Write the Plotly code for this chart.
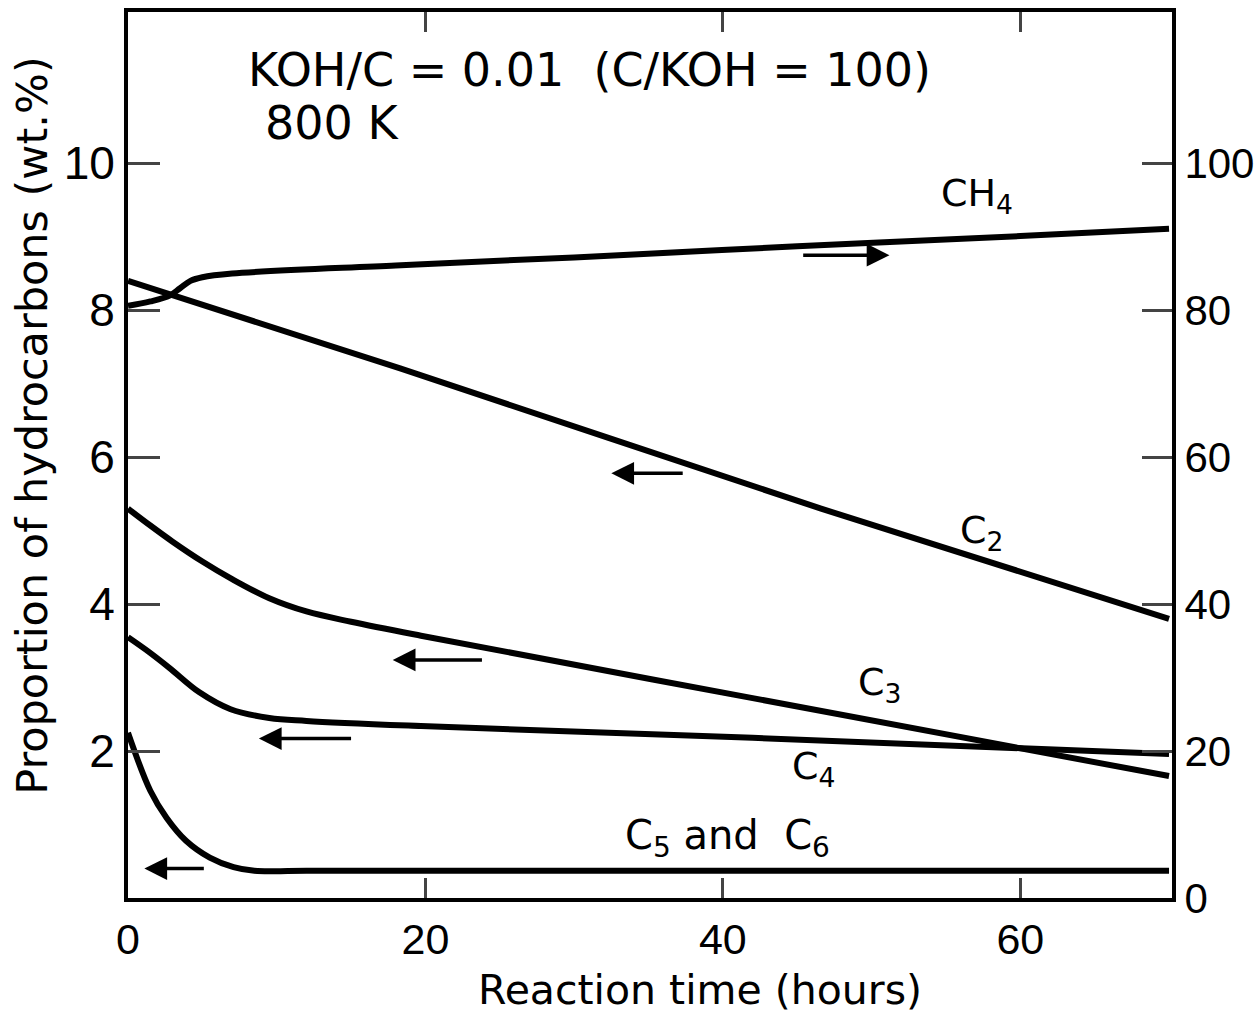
import plotly.graph_objects as go

# ---- data ----
t_ch4 = [0, 1.5, 2.8, 3.5, 4.2, 5.0, 7.0, 18, 30, 45, 60, 70]
ch4_pct = [80.6, 81.2, 82.0, 83.0, 84.0, 84.5, 85.0, 86.1, 87.2, 88.7, 90.1, 91.1]  # right axis

t_c2 = [0, 18.3, 46.6, 70]
c2 = [8.40, 7.21, 5.30, 3.80]

t_c3 = [0, 1.5, 3, 5, 7, 9.5, 12, 15, 19.7, 42, 70]
c3 = [5.30, 5.07, 4.85, 4.58, 4.34, 4.08, 3.90, 3.76, 3.57, 2.72, 1.66]

t_c4 = [0, 1.4, 2.8, 4.8, 6.9, 9.5, 12, 19.7, 42, 70]
c4 = [3.55, 3.35, 3.13, 2.80, 2.57, 2.45, 2.41, 2.34, 2.18, 1.96]

t_c56 = [0, 1.5, 2.6, 3.9, 5.5, 7.1, 8.5, 12, 70]
c56 = [2.25, 1.46, 1.09, 0.78, 0.55, 0.42, 0.37, 0.37, 0.37]

x_ticks = [0, 20, 40, 60]
y_left_ticks = [2, 4, 6, 8, 10]
y_right_ticks = [0, 20, 40, 60, 80, 100]

FONT = "DejaVu Sans"
TICKFONT = "Liberation Sans"
LW = 6

fig = go.Figure()
line = dict(color="black", width=LW, shape="spline", smoothing=1.0)
fig.add_trace(go.Scatter(x=t_c2, y=c2, mode="lines", line=dict(color="black", width=LW, shape="spline", smoothing=0.5), name="C2"))
fig.add_trace(go.Scatter(x=t_c3, y=c3, mode="lines", line=line, name="C3"))
fig.add_trace(go.Scatter(x=t_c4, y=c4, mode="lines", line=line, name="C4"))
fig.add_trace(go.Scatter(x=t_c56, y=c56, mode="lines", line=line, name="C5 and C6"))
fig.add_trace(go.Scatter(x=t_ch4, y=ch4_pct, mode="lines", line=line, name="CH4", yaxis="y2"))

ann = []
def txt(x, y, s, size=40):
    ann.append(dict(x=x, y=y, xref="x", yref="y", text=s, showarrow=False,
                    font=dict(family=FONT, size=size, color="black")))

txt(31.0, 11.27, "KOH/C = 0.01  (C/KOH = 100)", 46)
txt(13.7, 10.55, "800 K", 46)
txt(57.1, 9.56, "CH<sub>4</sub>", 38)
txt(57.4, 4.98, "C<sub>2</sub>", 38)
txt(50.5, 2.90, "C<sub>3</sub>", 38)
txt(46.1, 1.76, "C<sub>4</sub>", 38)
txt(40.3, 0.82, "C<sub>5</sub> and  C<sub>6</sub>", 40)

def arrow(x0, x1, y):
    ann.append(dict(x=x1, y=y, ax=x0, ay=y, xref="x", yref="y", axref="x", ayref="y",
                    text="", showarrow=True, arrowhead=2, arrowsize=1.3, arrowwidth=3.5,
                    arrowcolor="black"))

arrow(45.3, 51.2, 8.75)
arrow(37.4, 32.5, 5.78)
arrow(23.9, 17.8, 3.24)
arrow(15.1, 8.8, 2.17)
arrow(5.2, 1.1, 0.40)

# axis titles placed as paper annotations for exact positioning
ann.append(dict(x=0.548, y=-0.1035, xref="paper", yref="paper", yanchor="middle", showarrow=False,
                text="Reaction time (hours)", font=dict(family=FONT, size=41, color="black")))
ann.append(dict(x=-0.092, y=0.533, xref="paper", yref="paper", xanchor="center", yanchor="middle",
                showarrow=False, textangle=-90,
                text="Proportion of hydrocarbons (wt.%)", font=dict(family=FONT, size=43, color="black")))

fig.update_layout(
    width=1257, height=1013,
    margin=dict(l=128, r=85, t=12, b=115),
    paper_bgcolor="white", plot_bgcolor="white",
    showlegend=False,
    font=dict(family=FONT, color="black", size=44),
    annotations=ann,
    xaxis=dict(range=[0, 70.2], tickvals=x_ticks, ticks="inside", ticklen=20, tickwidth=3,
               showline=True, linewidth=4, linecolor="black", mirror="ticks",
               showgrid=False, zeroline=False, automargin=False, ticklabelstandoff=0,
               tickfont=dict(family=TICKFONT, size=43)),
    yaxis=dict(range=[0, 12.06], tickvals=y_left_ticks, ticks="inside", ticklen=32, tickwidth=3,
               showline=True, linewidth=4, linecolor="black",
               showgrid=False, zeroline=False, automargin=False,
               tickfont=dict(family=TICKFONT, size=46)),
    yaxis2=dict(range=[0, 120.6], tickvals=y_right_ticks, overlaying="y", side="right",
                ticks="inside", ticklen=30, tickwidth=3, ticklabelstandoff=0,
                showline=True, linewidth=4, linecolor="black",
                showgrid=False, zeroline=False, automargin=False,
                tickfont=dict(family=TICKFONT, size=42)),
)

fig.write_html("out.html")
